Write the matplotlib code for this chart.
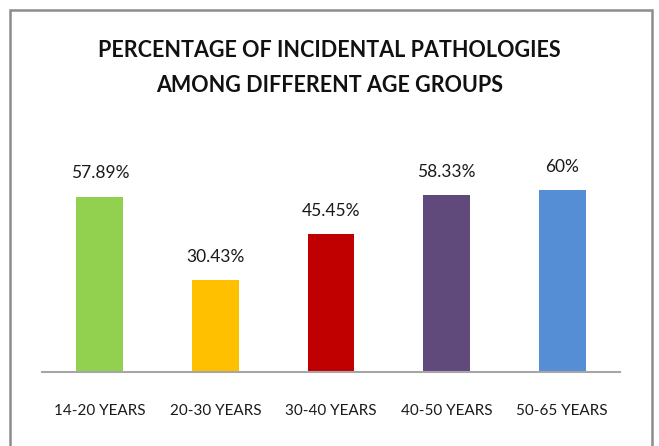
import matplotlib

matplotlib.use('Agg')

import matplotlib.pyplot as plt
from matplotlib.patches import Rectangle

plt.rcParams['font.family'] = ['Lato', 'DejaVu Sans']

TITLE = 'PERCENTAGE OF INCIDENTAL PATHOLOGIES\nAMONG DIFFERENT AGE GROUPS'
AGE_GROUPS = ['14-20 YEARS', '20-30 YEARS', '30-40 YEARS', '40-50 YEARS', '50-65 YEARS']
PERCENTAGES = [57.89, 30.43, 45.45, 58.33, 60]
VALUE_LABELS = ['57.89%', '30.43%', '45.45%', '58.33%', '60%']
BAR_COLORS = ['#92D050', '#FFC000', '#C00000', '#604A7B', '#558ED5']

W, H = 659, 446


def main():
    fig = plt.figure(figsize=(W / 100, H / 100), dpi=100)
    fig.patch.set_facecolor('white')

    # outer chart frame (bottom edge runs off the image)
    fig.patches.append(Rectangle((10 / W, -0.05), 642 / W, 1.05 - 10 / H,
                                 transform=fig.transFigure, fill=False,
                                 edgecolor='#8c8c8c', linewidth=1.8))

    # axes: x 42..620 px, baseline at y=372 px, top at y=160 px
    ax = fig.add_axes([42 / W, (H - 372) / H, 578 / W, 212 / H])
    x = range(len(AGE_GROUPS))
    bars = ax.bar(x, PERCENTAGES, width=0.405, color=BAR_COLORS)
    for bar, label in zip(bars, VALUE_LABELS):
        ax.annotate(label, (bar.get_x() + bar.get_width() / 2, bar.get_height()),
                    xytext=(0, 11), textcoords='offset points',
                    ha='center', va='bottom', fontsize=12.5, color='#1a1a1a')

    ax.set_xlim(-0.5, 4.5)
    ax.set_ylim(0, 70)
    ax.set_xticks(list(x))
    ax.set_xticklabels(AGE_GROUPS, fontsize=11, color='#1a1a1a')
    ax.tick_params(axis='x', length=0, pad=23)
    ax.set_yticks([])
    for side in ('top', 'left', 'right'):
        ax.spines[side].set_visible(False)
    ax.spines['bottom'].set_color('#a6a6a6')
    ax.spines['bottom'].set_linewidth(1.5)

    fig.text(0.5, 1 - 68 / H, TITLE, ha='center', va='center',
             fontsize=15.5, fontweight='bold', color='#111111', linespacing=1.85)

    fig.savefig('out.png', dpi=100)
    plt.close(fig)


if __name__ == '__main__':
    main()
